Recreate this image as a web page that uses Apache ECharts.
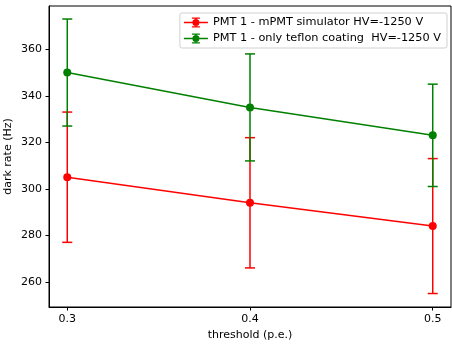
<!DOCTYPE html>
<html><head><meta charset="utf-8">
<script src="https://cdn.jsdelivr.net/npm/echarts@6/dist/echarts.min.js"></script>
<style>html,body{margin:0;padding:0;background:#fff}#c{width:452px;height:344px}</style>
</head><body><div id="c"></div>
<script>
const thresholds = [0.3, 0.4, 0.5];
const xTicks = [0.3, 0.4, 0.5];
const yTicks = [260, 280, 300, 320, 340, 360];
const seriesNames = ['PMT 1 - mPMT simulator HV=-1250 V', 'PMT 1 - only teflon coating  HV=-1250 V'];
const redValues = [305, 294, 284];
const redErrors = [28, 28, 29];
const greenValues = [350, 335, 323];
const greenErrors = [23, 23, 22];
const colors = ['#ff0000', '#008000'];

const chart = echarts.init(document.getElementById('c'), null, {renderer: 'canvas'});
const font = 'DejaVu Sans';

function errData(vals, errs) {
  return thresholds.map((x, i) => [x, vals[i] - errs[i], vals[i] + errs[i]]);
}
function errSeries(name, vals, errs, color, z) {
  return {
    type: 'custom', name: name, z: z, silent: true,
    data: errData(vals, errs),
    encode: {x: 0, y: [1, 2]},
    renderItem: function (params, api) {
      const lo = api.coord([api.value(0), api.value(1)]);
      const hi = api.coord([api.value(0), api.value(2)]);
      const hw = 5;
      const st = {stroke: color, lineWidth: 1.5};
      return {type: 'group', children: [
        {type: 'line', shape: {x1: lo[0], y1: lo[1], x2: hi[0], y2: hi[1]}, style: st},
        {type: 'line', shape: {x1: lo[0] - hw, y1: lo[1], x2: lo[0] + hw, y2: lo[1]}, style: st},
        {type: 'line', shape: {x1: hi[0] - hw, y1: hi[1], x2: hi[0] + hw, y2: hi[1]}, style: st}
      ]};
    }
  };
}
function lineSeries(name, vals, color, z) {
  return {
    type: 'line', name: name, z: z,
    data: thresholds.map((x, i) => [x, vals[i]]),
    symbol: 'circle', symbolSize: 8, showSymbol: true,
    lineStyle: {color: color, width: 1.5},
    itemStyle: {color: color},
    animation: false
  };
}
const icon = 'path://M0,4.3h24v1.4h-24z M11.3,0h1.4v10h-1.4z M8,0h8v1.3h-8z M8,8.7h8v1.3h-8z M8.5,5a3.5,3.5 0 1,1 7,0a3.5,3.5 0 1,1 -7,0z';

chart.setOption({
  animation: false,
  backgroundColor: '#fff',
  grid: {left: 49, top: 6, right: 1, bottom: 37, show: true, borderColor: '#000', borderWidth: 1, backgroundColor: 'transparent', containLabel: false, outerBoundsMode: 'none'},
  legend: {
    data: seriesNames.map((n, i) => ({name: n, icon: icon, itemStyle: {color: colors[i]}})),
    orient: 'vertical', right: 5, top: 13, itemWidth: 24, itemHeight: 11, itemGap: 5, itemTextGap: 8,
    padding: [4, 6, 4, 4],
    borderColor: '#d0d0d0', borderWidth: 1, borderRadius: 2, backgroundColor: 'rgba(255,255,255,0.8)',
    textStyle: {fontFamily: font, fontSize: 11.3, color: '#000'},
    selectedMode: false
  },
  xAxis: {
    type: 'value', min: 0.29, max: 0.51,
    name: 'threshold (p.e.)', nameLocation: 'middle', nameGap: 22,
    nameTextStyle: {fontFamily: font, fontSize: 11, color: '#000'},
    axisLine: {show: true, onZero: false, lineStyle: {color: '#000', width: 1}},
    axisTick: {show: true, length: 3.5, lineStyle: {color: '#000'}, customValues: xTicks},
    axisLabel: {fontFamily: font, fontSize: 11, color: '#000', margin: 7, customValues: xTicks, formatter: v => v.toFixed(1)},
    splitLine: {show: false}
  },
  yAxis: {
    type: 'value', min: 249.2, max: 378.6,
    name: 'dark rate (Hz)', nameLocation: 'middle', nameGap: 35, nameMoveOverlap: false,
    nameTextStyle: {fontFamily: font, fontSize: 11, color: '#000'},
    axisLine: {show: true, onZero: false, lineStyle: {color: '#000', width: 1}},
    axisTick: {show: true, length: 3.5, lineStyle: {color: '#000'}, customValues: yTicks},
    axisLabel: {fontFamily: font, fontSize: 11, color: '#000', margin: 7, customValues: yTicks},
    splitLine: {show: false}
  },
  series: [
    errSeries(seriesNames[0] + ' err', redValues, redErrors, colors[0], 2),
    lineSeries(seriesNames[0], redValues, colors[0], 3),
    errSeries(seriesNames[1] + ' err', greenValues, greenErrors, colors[1], 4),
    lineSeries(seriesNames[1], greenValues, colors[1], 5)
  ]
});
</script></body></html>
